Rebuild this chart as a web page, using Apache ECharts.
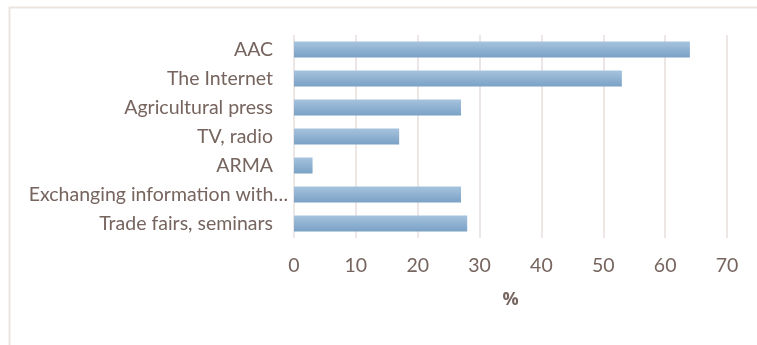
<!DOCTYPE html>
<html>
<head>
<meta charset="utf-8">
<script src="https://cdn.jsdelivr.net/npm/echarts@6/dist/echarts.min.js"></script>
<style>
html,body{margin:0;padding:0;background:#fff;}
#chart{width:757px;height:345px;}
</style>
</head>
<body>
<div id="chart"></div>
<script>
const categories = ["AAC", "The Internet", "Agricultural press", "TV, radio", "ARMA", "Exchanging information with…", "Trade fairs, seminars"];
const values = [64, 53, 27, 17, 3, 27, 28];
const axisName = "%";

const chart = echarts.init(document.getElementById('chart'));
const font = 'Lato';
const textColor = '#76645e';
const option = {
  animation: false,
  graphic: [{
    type: 'rect', left: 7, top: 5, silent: true,
    shape: {width: 800, height: 400},
    style: {fill: 'none', stroke: '#ebe5e2', lineWidth: 2}
  }],
  grid: {left: 294, right: 30, top: 35, bottom: 107},
  xAxis: {
    type: 'value', min: 0, max: 70, interval: 10,
    axisLine: {show: false}, axisTick: {show: false},
    splitLine: {lineStyle: {color: '#e6dfdc', width: 1.5}},
    axisLabel: {color: textColor, fontFamily: font, fontSize: 19.5, margin: 18},
    name: axisName, nameLocation: 'middle', nameGap: 53,
    nameTextStyle: {color: textColor, fontFamily: 'Open Sans', fontSize: 18, fontWeight: 700}
  },
  yAxis: {
    type: 'category', inverse: true,
    data: categories.map(c => c.endsWith('…') ? {value: c, textStyle: {padding: [0, 0, 0, 0]}} : {value: c, textStyle: {padding: [0, 15, 0, 0]}}),
    axisLine: {show: false}, axisTick: {show: false},
    axisLabel: {color: textColor, fontFamily: font, fontSize: 19.5, margin: 6}
  },
  series: [{
    type: 'bar', data: values, barWidth: 16,
    itemStyle: {
      color: new echarts.graphic.LinearGradient(0, 0, 0, 1, [
        {offset: 0, color: '#a6c3de'},
        {offset: 1, color: '#7aa1c5'}
      ])
    }
  }]
};
chart.setOption(option);
</script>
</body>
</html>
